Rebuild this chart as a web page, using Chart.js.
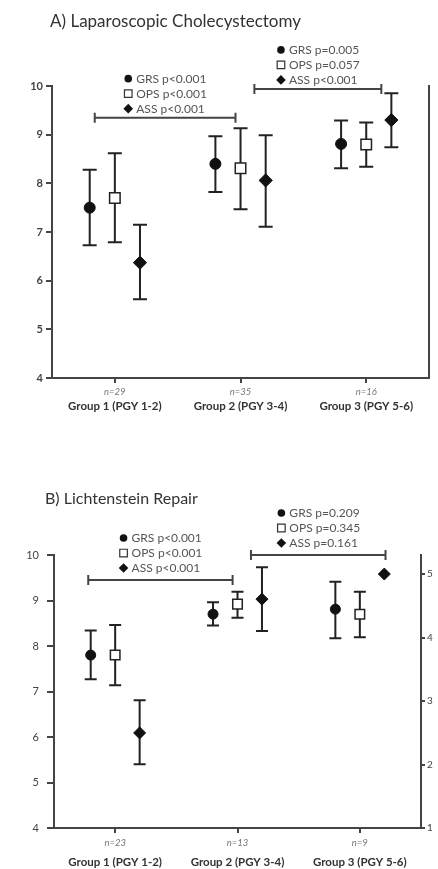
<!DOCTYPE html>
<html>
<head>
<meta charset="utf-8">
<script src="https://cdn.jsdelivr.net/npm/chart.js@4.4.0/dist/chart.umd.min.js"></script>
<style>
  body { margin: 0; background: #fff; width: 438px; height: 869px; position: relative; overflow: hidden; }
  .panel { position: absolute; left: 0; width: 438px; }
  #panelA { top: 0; height: 425px; }
  #panelB { top: 440px; height: 429px; }
</style>
</head>
<body>
<div class="panel" id="panelA"><canvas id="chartA"></canvas></div>
<div class="panel" id="panelB"><canvas id="chartB"></canvas></div>
<script>
// 공통
var groups = [1, 2, 3];
var groupNames = ['Group 1 (PGY 1-2)', 'Group 2 (PGY 3-4)', 'Group 3 (PGY 5-6)'];

// A) Laparoscopic Cholecystectomy
var nA = ['n=29', 'n=35', 'n=16'];
var grsA = [7.50, 8.40, 8.81];
var grsLoA = [6.73, 7.82, 8.31];
var grsHiA = [8.28, 8.97, 9.29];
var opsA = [7.70, 8.31, 8.80];
var opsLoA = [6.79, 7.47, 8.34];
var opsHiA = [8.62, 9.13, 9.25];
var assA = [6.37, 8.06, 9.30];
var assLoA = [5.62, 7.11, 8.74];
var assHiA = [7.15, 8.99, 9.85];
var pLeftA = ['GRS p<0.001', 'OPS p<0.001', 'ASS p<0.001'];
var pRightA = ['GRS p=0.005', 'OPS p=0.057', 'ASS p<0.001'];
var bracketsA = [[0.84, 1.96, 9.35], [2.11, 3.12, 9.94]]; // [from, to, y]

// B) Lichtenstein Repair
var nB = ['n=23', 'n=13', 'n=9'];
var grsB = [7.80, 8.70, 8.81];
var grsLoB = [7.27, 8.45, 8.17];
var grsHiB = [8.34, 8.96, 9.41];
var opsB = [7.80, 8.92, 8.70];
var opsLoB = [7.14, 8.62, 8.19];
var opsHiB = [8.46, 9.19, 9.19];
var assB = [6.09, 9.03];
var assLoB = [5.40, 8.33];
var assHiB = [6.81, 9.73];
var assB3Right = [5]; // group 3 ASS sits on the right axis, no error bar
var pLeftB = ['GRS p<0.001', 'OPS p<0.001', 'ASS p<0.001'];
var pRightB = ['GRS p=0.209', 'OPS p=0.345', 'ASS p=0.161'];
var bracketsB = [[0.78, 1.96, 9.45], [2.11, 3.21, 10.0]];

function pts(vals, offset, start) {
  start = start || 0;
  return vals.map(function (v, i) { return { x: groups[i + start] + offset, y: v }; });
}

function drawSymbol(ctx, kind, x, y) {
  ctx.save();
  ctx.fillStyle = '#111';
  ctx.strokeStyle = '#333';
  ctx.lineWidth = 1.2;
  ctx.beginPath();
  if (kind === 0) {
    ctx.arc(x, y, 3.8, 0, Math.PI * 2);
    ctx.fill();
  } else if (kind === 1) {
    ctx.fillStyle = '#fff';
    ctx.rect(x - 3.8, y - 3.8, 7.6, 7.6);
    ctx.fill();
    ctx.stroke();
  } else {
    ctx.moveTo(x - 4.8, y); ctx.lineTo(x, y - 4.8); ctx.lineTo(x + 4.8, y); ctx.lineTo(x, y + 4.8);
    ctx.closePath();
    ctx.fill();
  }
  ctx.restore();
}

// 에러바: 점 아래에 먼저 그린다
var errorBars = {
  id: 'errorBars',
  beforeDatasetsDraw: function (chart, args, opts) {
    var ctx = chart.ctx;
    var xs = chart.scales.x;
    chart.data.datasets.forEach(function (ds) {
      if (!ds.lo) return;
      var ys = chart.scales[ds.yAxisID || 'y'];
      ctx.save();
      ctx.strokeStyle = '#222';
      ctx.lineWidth = 2;
      ds.data.forEach(function (p, i) {
        var x = xs.getPixelForValue(p.x);
        var a = ys.getPixelForValue(ds.lo[i]);
        var b = ys.getPixelForValue(ds.hi[i]);
        ctx.beginPath();
        ctx.moveTo(x, a); ctx.lineTo(x, b);
        ctx.moveTo(x - opts.cap, a); ctx.lineTo(x + opts.cap, a);
        ctx.moveTo(x - opts.cap, b); ctx.lineTo(x + opts.cap, b);
        ctx.stroke();
      });
      ctx.restore();
    });
  }
};

// 제목, 유의성 괄호, x축 라벨
var extras = {
  id: 'extras',
  afterDraw: function (chart, args, o) {
    var ctx = chart.ctx;
    var xs = chart.scales.x, ys = chart.scales.y;
    ctx.save();
    ctx.fillStyle = '#333';
    ctx.font = o.titleSize + 'px Lato';
    ctx.textBaseline = 'middle';
    ctx.textAlign = 'left';
    ctx.fillText(o.title, o.titleX, o.titleY);

    o.brackets.forEach(function (br, j) {
      var x1 = xs.getPixelForValue(br[0]);
      var x2 = xs.getPixelForValue(br[1]);
      var y = ys.getPixelForValue(br[2]);
      ctx.strokeStyle = '#444';
      ctx.lineWidth = 2;
      ctx.beginPath();
      ctx.moveTo(x1, y); ctx.lineTo(x2, y);
      ctx.moveTo(x1, y - 5); ctx.lineTo(x1, y + 5);
      ctx.moveTo(x2, y - 5); ctx.lineTo(x2, y + 5);
      ctx.stroke();

      var rows = o.pLabels[j];
      ctx.font = '12px Lato';
      var w = 0;
      rows.forEach(function (t) { w = Math.max(w, ctx.measureText(t).width); });
      var left = (x1 + x2) / 2 - (w + 11) / 2;
      rows.forEach(function (t, k) {
        var ry = y - o.pGap - (rows.length - 1 - k) * 15;
        drawSymbol(ctx, k, left + 4, ry);
        ctx.fillStyle = '#555';
        ctx.textAlign = 'left';
        ctx.fillText(t, left + 12, ry);
      });
    });

    ctx.textAlign = 'center';
    groups.forEach(function (g, i) {
      var x = xs.getPixelForValue(g);
      ctx.fillStyle = '#777';
      ctx.font = 'italic 9.5px Lato';
      ctx.fillText(o.nLabels[i], x, chart.chartArea.bottom + o.nOffset);
      ctx.fillStyle = '#333';
      ctx.font = 'bold 11.5px Lato';
      ctx.fillText(groupNames[i], x, chart.chartArea.bottom + o.nameOffset);
    });
    ctx.restore();
  }
};

function axisX(height) {
  return {
    type: 'linear', min: 0.5, max: 3.5,
    afterBuildTicks: function (s) { s.ticks = groups.map(function (g) { return { value: g }; }); },
    ticks: { display: false },
    grid: { drawOnChartArea: false, tickLength: 5, color: '#444', lineWidth: 2 },
    border: { color: '#444', width: 2 },
    afterFit: function (s) { s.height = height; }
  };
}

function axisY(width, bold, tickLen, pad) {
  return {
    min: 4, max: 10,
    ticks: { stepSize: 1, color: '#444', padding: pad,
             font: { family: 'Lato', size: 11, weight: bold ? 'bold' : 'normal' } },
    grid: { drawOnChartArea: false, tickLength: tickLen, color: '#444', lineWidth: 2 },
    border: { color: '#444', width: 2 },
    afterFit: function (s) { s.width = width; }
  };
}

function markers(grs, grsLo, grsHi, ops, opsLo, opsHi, ass, assLo, assHi, size) {
  return [{
    label: 'GRS', data: pts(grs, -0.2), lo: grsLo, hi: grsHi,
    pointStyle: 'circle', pointRadius: size, backgroundColor: '#111', borderColor: '#111', borderWidth: 1
  }, {
    label: 'OPS', data: pts(ops, 0), lo: opsLo, hi: opsHi,
    pointStyle: 'rect', pointRadius: size * 1.35, backgroundColor: '#fff', borderColor: '#222', borderWidth: 1.5
  }, {
    label: 'ASS', data: pts(ass, 0.2), lo: assLo, hi: assHi,
    pointStyle: 'rectRot', pointRadius: size * 1.2, backgroundColor: '#111', borderColor: '#111', borderWidth: 1
  }];
}

var chartA = new Chart(document.getElementById('chartA').getContext('2d'), {
  type: 'scatter',
  data: {
    datasets: markers(grsA, grsLoA, grsHiA, opsA, opsLoA, opsHiA, assA, assLoA, assHiA, 5.5)
  },
  options: {
    responsive: true, maintainAspectRatio: false, animation: false,
    layout: { padding: { top: 86, left: 0, right: 0, bottom: 0 } },
    scales: {
      x: axisX(47),
      y: axisY(52, true, 6, 3),
      y1: {
        position: 'right', min: 0, max: 1,
        ticks: { display: false },
        grid: { drawOnChartArea: false, drawTicks: false },
        border: { color: '#444', width: 2 },
        afterFit: function (s) { s.width = 1; }
      }
    },
    plugins: {
      legend: { display: false }, tooltip: { enabled: false },
      errorBars: { cap: 7 },
      extras: {
        title: 'A) Laparoscopic Cholecystectomy', titleX: 50, titleY: 22, titleSize: 17,
        brackets: bracketsA, pLabels: [pLeftA, pRightA], pGap: 9,
        nLabels: nA, nOffset: 14, nameOffset: 28
      }
    }
  },
  plugins: [errorBars, extras]
});

var dataB = markers(grsB, grsLoB, grsHiB, opsB, opsLoB, opsHiB, assB, assLoB, assHiB, 5);
dataB.push({
  label: 'ASS (right)', data: pts(assB3Right, 0.2, 2), yAxisID: 'y1',
  pointStyle: 'rectRot', pointRadius: 6, backgroundColor: '#111', borderColor: '#111', borderWidth: 1
});

var chartB = new Chart(document.getElementById('chartB').getContext('2d'), {
  type: 'scatter',
  data: { datasets: dataB },
  options: {
    responsive: true, maintainAspectRatio: false, animation: false,
    layout: { padding: { top: 115, left: 0, right: 0, bottom: 0 } },
    scales: {
      x: axisX(41),
      y: axisY(54, false, 7, 8),
      y1: {
        position: 'right', min: 1, max: 5.3,
        afterBuildTicks: function (s) { s.ticks = s.ticks.filter(function (t) { return Number.isInteger(t.value); }); },
        ticks: { stepSize: 1, color: '#444', padding: 2, font: { family: 'Lato', size: 10 } },
        grid: { drawOnChartArea: false, tickLength: 4, color: '#444', lineWidth: 2 },
        border: { color: '#444', width: 2 },
        afterFit: function (s) { s.width = 17; }
      }
    },
    plugins: {
      legend: { display: false }, tooltip: { enabled: false },
      errorBars: { cap: 6 },
      extras: {
        title: 'B) Lichtenstein Repair', titleX: 45, titleY: 59, titleSize: 16,
        brackets: bracketsB, pLabels: [pLeftB, pRightB], pGap: 12,
        nLabels: nB, nOffset: 15, nameOffset: 34
      }
    }
  },
  plugins: [errorBars, extras]
});
</script>
</body>
</html>
